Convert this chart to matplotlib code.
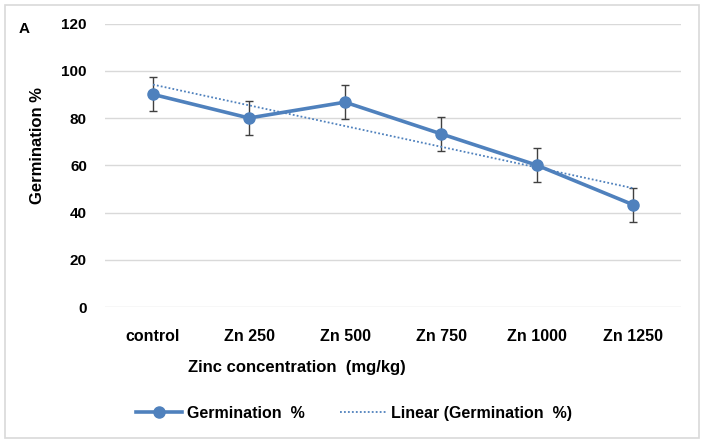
import numpy as np
import matplotlib.pyplot as plt
from matplotlib.patches import Rectangle

# Данные
categories = ['control', 'Zn 250', 'Zn 500', 'Zn 750', 'Zn 1000', 'Zn 1250']
germination = [90.0, 80.0, 86.7, 73.3, 60.0, 43.3]
errors = [7.2, 7.2, 7.2, 7.2, 7.2, 7.2]

blue = '#4F81BD'
plt.rcParams['font.family'] = ['Liberation Sans', 'DejaVu Sans']

fig = plt.figure(figsize=(7.05, 4.44), dpi=100)
ax = fig.add_axes([105 / 705, 1 - 307 / 444, 576 / 705, (307 - 23.5) / 444])

x = np.arange(1, len(categories) + 1)
ax.errorbar(x, germination, yerr=errors, fmt='none', ecolor='#404040',
            elinewidth=1, capsize=3.2, capthick=1, zorder=2)
ax.plot(x, germination, color=blue, lw=2.6, marker='o', ms=8,
        label='Germination  %', zorder=3)

# Линейный тренд
k, b = np.polyfit(x, germination, 1)
ax.plot(x, k * x + b, color=blue, lw=1.3, ls=(0, (1, 1.2)),
        label='Linear (Germination  %)', zorder=2.5)

ax.set_xlim(0.5, 6.5)
ax.set_ylim(0, 120)
ax.set_yticks(range(0, 121, 20))
ax.set_xticks(x)
ax.set_xticklabels(categories)
ax.grid(axis='y', color='#D9D9D9', lw=1)
ax.set_axisbelow(True)
for s in ax.spines.values():
    s.set_visible(False)
ax.tick_params(length=0)
ax.tick_params(axis='y', labelsize=11, pad=13)
ax.tick_params(axis='x', labelsize=11.5, pad=16)
for t in ax.get_xticklabels() + ax.get_yticklabels():
    t.set_fontweight('bold')

fig.text(297 / 705, 1 - 367 / 444, 'Zinc concentration  (mg/kg)', ha='center',
         va='center', fontsize=12, fontweight='bold')
fig.text(38 / 705, 1 - 145 / 444, 'Germination %', rotation=90, ha='center',
         va='center', fontsize=12, fontweight='bold')
fig.text(24.5 / 705, 1 - 29 / 444, 'A', ha='center', va='center',
         fontsize=11, fontweight='bold')

leg = fig.legend(loc='center', bbox_to_anchor=(354 / 705, 1 - 413 / 444), ncol=2,
                 frameon=False, prop={'size': 11.5, 'weight': 'bold'},
                 handlelength=2.9, handletextpad=0.3, columnspacing=2.2)

fig.patches.append(Rectangle((5 / 705, 6 / 444), 694 / 705, 433 / 444,
                             transform=fig.transFigure, fill=False,
                             edgecolor='#D9D9D9', lw=1.2))

plt.savefig('out.png', dpi=100)
